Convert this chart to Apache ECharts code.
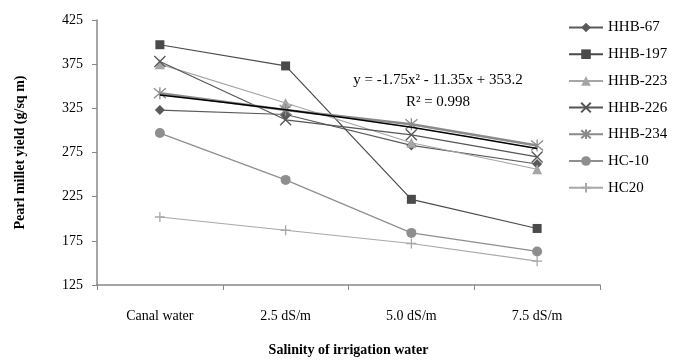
<!DOCTYPE html>
<html><head><meta charset="utf-8">
<script src="https://cdn.jsdelivr.net/npm/echarts@6/dist/echarts.min.js"></script>
<style>html,body{margin:0;padding:0;background:#fff}#c{width:674px;height:362px}</style>
</head><body><div id="c"></div>
<script>
const categories = ['Canal water', '2.5 dS/m', '5.0 dS/m', '7.5 dS/m'];
const yTicks = [125, 175, 225, 275, 325, 375, 425];
const hhb67  = [323, 318, 283, 262];
const hhb197 = [397, 373, 222, 189];
const hhb223 = [375, 331, 286, 256];
const hhb226 = [378, 312, 295, 270];
const hhb234 = [342, 323, 307, 283];
const hc10   = [297, 244, 184, 163];
const hc20   = [202, 187, 172, 152];
const trend  = [340, 323.5, 303.5, 279.5];
const equationText = 'y = -1.75x\u00B2 - 11.35x + 353.2';
const r2Text = 'R\u00B2 = 0.998';

const F = 'Liberation Serif';
const xPath = 'path://M0 0L10 10M10 0L0 10';
const starPath = 'path://M0 0L10 10M10 0L0 10M5 -1L5 11';
const plusPath = 'path://M5 0L5 10M0 5L10 5';

function mk(name, data, color, symbol, size, lw, stroked) {
  return {
    name, type: 'line', data, symbol, symbolSize: size,
    lineStyle: { color, width: lw },
    itemStyle: stroked ? { color: 'rgba(0,0,0,0)', borderColor: color, borderWidth: 1.3 } : { color, borderWidth: 0 },
    z: 3
  };
}

const series = [
  mk('HHB-67', hhb67, '#5a5a5a', 'diamond', 10, 1.2, false),
  mk('HHB-197', hhb197, '#4a4a4a', 'rect', 9, 1.2, false),
  mk('HHB-223', hhb223, '#a5a5a5', 'triangle', 10, 1.2, false),
  mk('HHB-226', hhb226, '#555555', xPath, 11, 1.2, true),
  mk('HHB-234', hhb234, '#8a8a8a', starPath, 12, 2.5, true),
  mk('HC-10', hc10, '#8e8e8e', 'circle', 10, 1.2, false),
  mk('HC20', hc20, '#a8a8a8', plusPath, 10, 1.2, true),
  { name: 'trend', type: 'line', data: trend, symbol: 'none', smooth: 0.2,
    lineStyle: { color: '#000', width: 1.5 }, z: 4 }
];

const chart = echarts.init(document.getElementById('c'));
chart.setOption({
  animation: false,
  backgroundColor: '#fff',
  textStyle: { fontFamily: F },
  grid: { left: 97, right: 74, top: 20, bottom: 72 },
  legend: {
    orient: 'vertical', left: 563, top: 15,
    data: ['HHB-67','HHB-197','HHB-223','HHB-226','HHB-234','HC-10','HC20'],
    itemWidth: 34, itemHeight: 12, itemGap: 11.7,
    textStyle: { fontFamily: F, fontSize: 15, color: '#000' }
  },
  xAxis: {
    type: 'category', data: categories, boundaryGap: true,
    name: 'Salinity of irrigation water', nameLocation: 'middle', nameGap: 58,
    nameTextStyle: { fontFamily: F, fontSize: 14, fontWeight: 'bold', color: '#000' },
    axisLine: { lineStyle: { color: '#888', width: 1.5 } },
    axisTick: { show: true, length: 5, lineStyle: { color: '#888' } },
    axisLabel: { margin: 24, fontFamily: F, fontSize: 14, color: '#000' }
  },
  yAxis: {
    type: 'value', min: yTicks[0], max: yTicks[yTicks.length - 1], interval: 50,
    name: 'Pearl millet yield (g/sq m)', nameLocation: 'middle', nameGap: 70,
    nameTextStyle: { fontFamily: F, fontSize: 14, fontWeight: 'bold', color: '#000' },
    axisLine: { show: true, lineStyle: { color: '#888', width: 1.5 } },
    axisTick: { show: true, length: 5, lineStyle: { color: '#888' } },
    splitLine: { show: false },
    axisLabel: { margin: 14, fontFamily: F, fontSize: 14, color: '#000' }
  },
  graphic: [
    { type: 'text', position: [438, 80], style: { text: equationText, x: 0, y: 0, textAlign: 'center', textVerticalAlign: 'middle', fontFamily: F, fontSize: 15, fill: '#000' }, z: 10 },
    { type: 'text', position: [438, 102], style: { text: r2Text, x: 0, y: 0, textAlign: 'center', textVerticalAlign: 'middle', fontFamily: F, fontSize: 15, fill: '#000' }, z: 10 }
  ],
  series
});
</script></body></html>
